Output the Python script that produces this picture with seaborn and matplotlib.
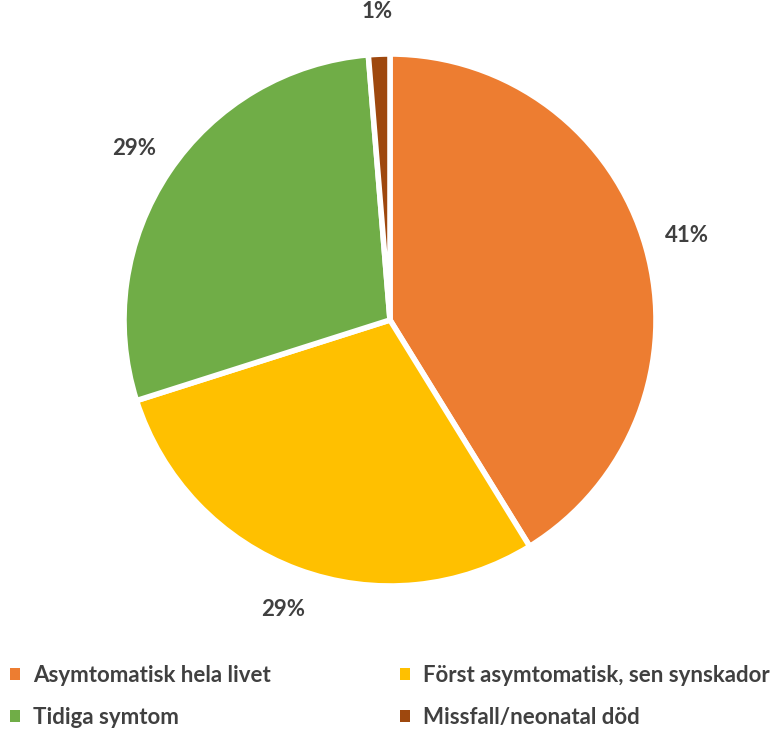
import matplotlib
matplotlib.use("Agg")
import matplotlib.pyplot as plt
from matplotlib.patches import Patch
import numpy as np
import seaborn as sns

categories = ["Asymtomatisk hela livet", "Först asymtomatisk, sen synskador",
              "Tidiga symtom", "Missfall/neonatal död"]
values = [41.2, 28.9, 28.6, 1.3]
labels = ["41%", "29%", "29%", "1%"]
colors = ["#ED7D31", "#FFC000", "#70AD47", "#9E480E"]

sns.set_theme(style="white")
plt.rcParams["font.family"] = ["Lato", "DejaVu Sans"]

W, H = 775, 729
fig = plt.figure(figsize=(W / 100, H / 100), dpi=100)
cx, cy, R = 390, 320, 266
ax = fig.add_axes([(cx - R) / W, (H - cy - R) / H, 2 * R / W, 2 * R / H])
wedges, _ = ax.pie(values, colors=colors, startangle=90, counterclock=False,
                   radius=1, wedgeprops=dict(edgecolor="white", linewidth=4))
cum = np.cumsum([0] + values[:-1])
tot = sum(values)
for v, c0, lab in zip(values, cum, labels):
    ang = np.deg2rad(90 - (c0 + v / 2) / tot * 360)
    r = 1.16
    ax.text(r * np.cos(ang), r * np.sin(ang), lab, ha="center", va="center",
            fontsize=16, fontweight="bold", color="#404040")
ax.set_xlim(-1, 1)
ax.set_ylim(-1, 1)
ax.set_aspect("equal")
ax.axis("off")

order = [0, 2, 1, 3]
handles = [Patch(facecolor=colors[i], edgecolor="none") for i in order]
leg_labels = [categories[i] for i in order]
fig.legend(handles, leg_labels, ncol=2, loc="upper left",
           bbox_to_anchor=(-10 / W, 1 - 645 / H), frameon=False,
           prop=dict(family=["Lato", "DejaVu Sans"], weight="bold", size=16),
           labelcolor="#404040", handlelength=0.45, handleheight=0.45,
           handletextpad=0.6, columnspacing=5.8, labelspacing=0.95)

fig.savefig("out.png", dpi=100, facecolor="white")
